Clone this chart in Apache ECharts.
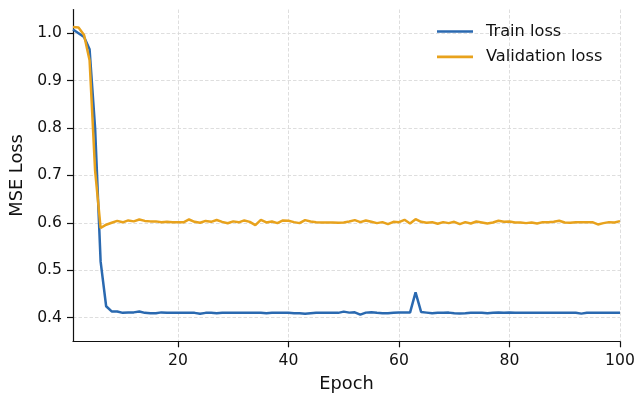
<!DOCTYPE html>
<html>
<head>
<meta charset="utf-8">
<script src="https://cdn.jsdelivr.net/npm/echarts@6/dist/echarts.min.js"></script>
<style>
html,body{margin:0;padding:0;background:#fff;}
#chart{width:636px;height:394px;}
</style>
</head>
<body>
<div id="chart"></div>
<script>
const epochs = Array.from({length: 100}, (_, i) => i + 1);

const trainLoss = [
  1.008, 1.000, 0.992, 0.966, 0.800, 0.518, 0.424, 0.413, 0.413, 0.410,
  0.411, 0.411, 0.413, 0.410, 0.409, 0.409, 0.411, 0.410, 0.410, 0.410,
  0.410, 0.410, 0.410, 0.408, 0.410, 0.410, 0.409, 0.410, 0.410, 0.410,
  0.410, 0.410, 0.410, 0.410, 0.410, 0.409, 0.410, 0.410, 0.410, 0.410,
  0.409, 0.409, 0.408, 0.409, 0.410, 0.410, 0.410, 0.410, 0.410, 0.4126,
  0.4105, 0.4112, 0.4063, 0.4105, 0.4112, 0.410, 0.409, 0.409, 0.410, 0.4105,
  0.4105, 0.4105, 0.4532, 0.4119, 0.4105, 0.409, 0.410, 0.410, 0.4105, 0.409,
  0.4084, 0.409, 0.410, 0.410, 0.410, 0.409, 0.410, 0.4105, 0.410, 0.4105,
  0.410, 0.410, 0.410, 0.410, 0.410, 0.410, 0.410, 0.410, 0.410, 0.410,
  0.410, 0.410, 0.4084, 0.410, 0.410, 0.410, 0.410, 0.410, 0.410, 0.410
];

const valLoss = [
  1.013, 1.012, 0.996, 0.943, 0.710, 0.589, 0.596, 0.600, 0.604, 0.601,
  0.605, 0.603, 0.607, 0.604, 0.603, 0.603, 0.601, 0.602, 0.601, 0.601,
  0.601, 0.607, 0.602, 0.600, 0.604, 0.602, 0.606, 0.602, 0.599, 0.603,
  0.601, 0.605, 0.602, 0.595, 0.6063, 0.6007, 0.6028, 0.5993, 0.6049, 0.6042,
  0.6014, 0.5993, 0.6056, 0.6028, 0.6014, 0.6007, 0.6007, 0.6007, 0.6000, 0.6007,
  0.6028, 0.6056, 0.6014, 0.6049, 0.6021, 0.5993, 0.6014, 0.5972, 0.6021, 0.6014,
  0.6063, 0.5986, 0.6077, 0.6021, 0.6000, 0.6014, 0.5979, 0.6014, 0.5993, 0.6021,
  0.5972, 0.6014, 0.5986, 0.6028, 0.6007, 0.5986, 0.6007, 0.6042, 0.6021, 0.6028,
  0.6007, 0.6007, 0.5993, 0.6007, 0.5986, 0.6014, 0.6014, 0.6021, 0.6042, 0.6007,
  0.6000, 0.6014, 0.6014, 0.6014, 0.6014, 0.5965, 0.5993, 0.6014, 0.6007, 0.6035
];

const xTicks = [20, 40, 60, 80, 100];
const yTicks = [0.4, 0.5, 0.6, 0.7, 0.8, 0.9, 1.0];

const FONT = 'DejaVu Sans';
const INK = '#111111';
const chart = echarts.init(document.getElementById('chart'), null, {renderer: 'canvas'});

const gridLine = {show: true, lineStyle: {color: '#d6d6d6', width: 0.8, type: [3.5, 2]}};

chart.setOption({
  animation: false,
  backgroundColor: '#fff',
  grid: {left: 73, right: 16, top: 9.5, bottom: 52.7, containLabel: false, outerBoundsMode: 'none'},
  legend: {
    orient: 'vertical',
    left: 437, top: 21.5,
    padding: 0,
    itemWidth: 36, itemHeight: 2.6,
    itemGap: 5.4,
    icon: 'rect',
    textStyle: {fontFamily: FONT, fontSize: 16.2, color: INK, lineHeight: 20, padding: [0, 0, 0, 8]},
    data: ['Train loss', 'Validation loss']
  },
  xAxis: {
    type: 'value', min: 1, max: 100,
    name: 'Epoch', nameLocation: 'middle', nameGap: 34,
    nameTextStyle: {fontFamily: FONT, fontSize: 17.8, color: INK},
    axisLine: {show: true, onZero: false, lineStyle: {color: INK, width: 1.2}},
    axisTick: {show: true, length: 6, customValues: xTicks, lineStyle: {color: INK, width: 1.2}},
    axisLabel: {customValues: xTicks, margin: 11.5, fontFamily: FONT, fontSize: 15.6, color: INK},
    splitLine: gridLine
  },
  yAxis: {
    type: 'value', min: 0.35, max: 1.05,
    name: 'MSE Loss', nameLocation: 'middle', nameGap: 47, nameRotate: 90,
    nameTextStyle: {fontFamily: FONT, fontSize: 17.8, color: INK},
    axisLine: {show: true, onZero: false, lineStyle: {color: INK, width: 1.2}},
    axisTick: {show: true, length: 6, customValues: yTicks, lineStyle: {color: INK, width: 1.2}},
    axisLabel: {customValues: yTicks, margin: 11, fontFamily: FONT, fontSize: 15.6, color: INK,
      formatter: v => v.toFixed(1)},
    splitLine: gridLine
  },
  series: [
    {
      name: 'Train loss', type: 'line', showSymbol: false, symbol: 'none',
      data: epochs.map((e, i) => [e, trainLoss[i]]),
      lineStyle: {color: '#2a69b0', width: 2.5}, itemStyle: {color: '#2a69b0'}
    },
    {
      name: 'Validation loss', type: 'line', showSymbol: false, symbol: 'none',
      data: epochs.map((e, i) => [e, valLoss[i]]),
      lineStyle: {color: '#e8a21c', width: 2.5}, itemStyle: {color: '#e8a21c'}
    }
  ]
});
</script>
</body>
</html>
